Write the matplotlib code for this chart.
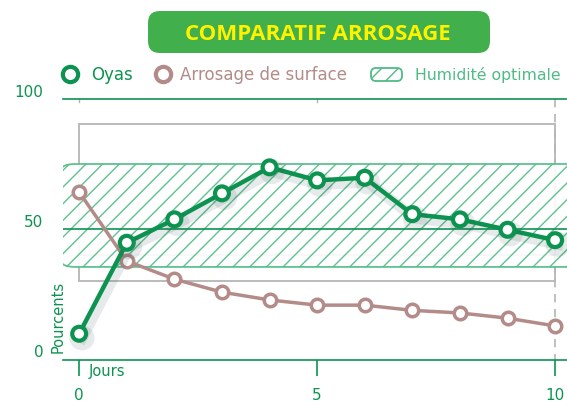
import numpy as np
import matplotlib
matplotlib.use("Agg")
import matplotlib.pyplot as plt
from matplotlib.patches import FancyBboxPatch, Rectangle
from matplotlib import patheffects as pe

# donnees
jours = np.arange(0, 11)
oyas = [7, 42, 51, 61, 71, 66, 67, 53, 51, 47, 43]
surface = [61.5, 35, 28, 23, 20, 18, 18, 16, 15, 13, 10]
humidite = (32.7, 72.3)      # bande d'humidite optimale
ligne_moy = 47.3
cadre_gris = (27.3, 87.7)
ligne_grise = 37.3
x_ticks = [0, 5, 10]
y_ticks = [0, 50, 100]

VERT = "#0c9350"
VERT_CLAIR = "#4fbb87"
BRUN = "#b38b88"
GRIS = "#b5b5b5"

W, H = 567, 406
fig = plt.figure(figsize=(W / 100, H / 100), dpi=100)

# axes principal
ax = fig.add_axes([63 / W, 1 - 361 / H, 1 - 63 / W, 261 / H])
ax.set_xlim(-0.34, 10.25)
ax.set_ylim(-3.1, 97.3)
for s in ["left", "right"]:
    ax.spines[s].set_visible(False)
for s in ["top", "bottom"]:
    ax.spines[s].set_color(VERT)
    ax.spines[s].set_linewidth(1.2)
ax.set_yticks([])
ax.set_xticks(x_ticks)
ax.set_xticklabels([str(t) for t in x_ticks], color=VERT, fontsize=11)
ax.tick_params(axis="x", length=11.5, width=1.2, color=VERT, pad=8)
ax.set_facecolor("none")

# petites graduations en haut
for t in [0, 5]:
    ax.plot([t, t], [97.3, 96.0], color=GRIS, lw=1, clip_on=False)

# cadre gris
ax.add_patch(Rectangle((0, cadre_gris[0]), 10, cadre_gris[1] - cadre_gris[0],
                       fill=False, edgecolor=GRIS, lw=1.3, zorder=1))
ax.plot([0, 10], [ligne_grise, ligne_grise], color=GRIS, lw=1.3, zorder=1)
ax.plot([10, 10], [97.3, -3.1], color=GRIS, lw=1.2, ls=(0, (5, 4)), zorder=1)

# bande hachuree
plt.rcParams["hatch.color"] = VERT_CLAIR
plt.rcParams["hatch.linewidth"] = 1.0
band = FancyBboxPatch((-0.38, humidite[0]), 11.5, humidite[1] - humidite[0],
                      boxstyle="round,pad=0,rounding_size=0.3",
                      mutation_aspect=8, facecolor="white", edgecolor=VERT_CLAIR,
                      hatch="//", lw=1.3, zorder=2, alpha=0.9)
ax.add_patch(band)
ax.plot([-0.38, 10.3], [ligne_moy, ligne_moy], color=VERT, lw=1.2, zorder=3)

# series
ax.plot(jours, surface, color=BRUN, lw=2.5, marker="o", ms=9, mfc="white",
        mec=BRUN, mew=2.5, zorder=4)
ax.plot(jours, oyas, color=VERT, lw=3.2, marker="o", ms=10, mfc="white",
        mec=VERT, mew=3, zorder=5,
        path_effects=[pe.SimpleLineShadow(offset=(2, -3), shadow_color="#355",
                                          alpha=0.12, linewidth=8), pe.Normal()])

# etiquettes de l'axe y
for v in y_ticks:
    ax.text(-0.75, v, str(v), color=VERT, fontsize=11, ha="right", va="center",
            clip_on=False)
ax.text(-0.45, 14, "Pourcents", color=VERT, fontsize=10.5, rotation=90,
        ha="center", va="center", clip_on=False)
ax.text(0.19, -7, "Jours", color=VERT, fontsize=10.5, ha="left", va="center",
        clip_on=False)

# calque pour titre et legende
ov = fig.add_axes([0, 0, 1, 1])
ov.set_xlim(0, W)
ov.set_ylim(H, 0)
ov.axis("off")
ov.set_facecolor("none")

ov.add_patch(FancyBboxPatch((148, 12), 342, 42,
                            boxstyle="round,pad=0,rounding_size=12",
                            facecolor="#41b04c", edgecolor="none"))
ov.text(318, 34, "COMPARATIF ARROSAGE", color="#fff200", fontsize=16,
        fontweight="bold", family="Open Sans", ha="center", va="center")

ov.plot([70], [75], marker="o", ms=11, mfc="white", mec=VERT, mew=3)
ov.text(91, 75, "Oyas", color=VERT, fontsize=12, va="center")
ov.plot([163], [75], marker="o", ms=11, mfc="white", mec=BRUN, mew=3)
ov.text(180, 75, "Arrosage de surface", color=BRUN, fontsize=12, va="center")
ov.add_patch(FancyBboxPatch((371, 69), 31, 13,
                            boxstyle="round,pad=0,rounding_size=5",
                            facecolor="white", edgecolor=VERT_CLAIR,
                            hatch="//", lw=1.3))
ov.text(415, 75, "Humidité optimale", color=VERT_CLAIR, fontsize=11.3,
        va="center")

fig.savefig("out.png", dpi=100)
